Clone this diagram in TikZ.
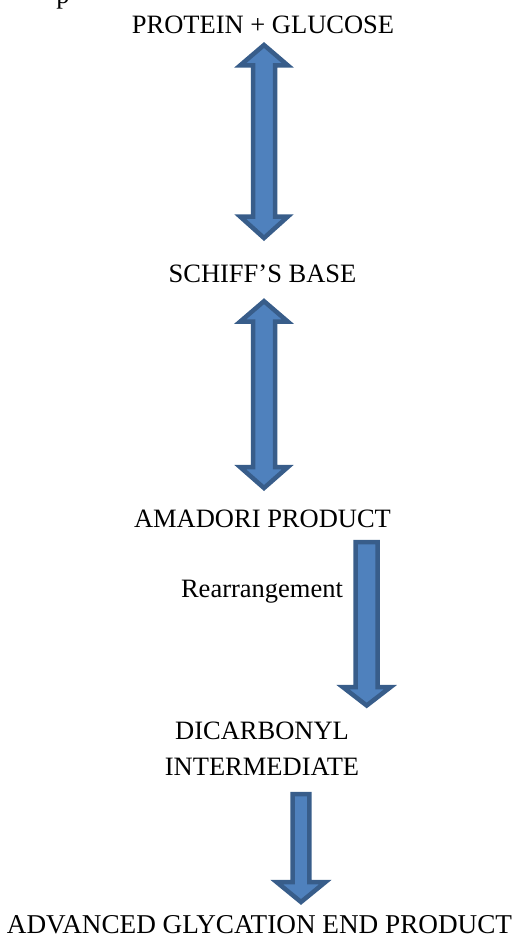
\documentclass[tikz,border=0pt]{standalone}
\usepackage{fontspec}
\setmainfont{Liberation Serif}
\tikzset{
  lbl/.style={inner sep=0pt, anchor=base, font=\fontsize{26.5}{36}\selectfont},
  blockarrow/.style={fill=arrowfill, draw=arrowline, line width=4.5pt, line join=miter}
}
\definecolor{arrowfill}{HTML}{4F81BD}
\definecolor{arrowline}{HTML}{385D8A}
% double arrow: cx, top tip, top head base, bottom head base, bottom tip, half head, half shaft
\newcommand\myDblArrow[7]{%
  \draw[blockarrow] (#1,#2) -- (#1+#6,#3) -- (#1+#7,#3) -- (#1+#7,#4) -- (#1+#6,#4)
    -- (#1,#5) -- (#1-#6,#4) -- (#1-#7,#4) -- (#1-#7,#3) -- (#1-#6,#3) -- cycle;}
% down arrow: cx, shaft top, head base, tip, half head, half shaft
\newcommand\myDownArrow[6]{%
  \draw[blockarrow] (#1-#6,#2) -- (#1+#6,#2) -- (#1+#6,#3) -- (#1+#5,#3) -- (#1,#4)
    -- (#1-#5,#3) -- (#1-#6,#3) -- cycle;}
\begin{document}
\begin{tikzpicture}[x=1pt,y=-1pt]
\useasboundingbox (0,0) rectangle (515,951);
\begin{scope}
\clip (0,0) rectangle (515,951);
\node[lbl] (frag) at (63,3.5) {p};
\end{scope}
\node[lbl] (pg) at (263,33) {PROTEIN + GLUCOSE};
\node[lbl] (sb) at (262.5,282) {SCHIFF’S BASE};
\node[lbl] (ap) at (262.5,527) {AMADORI PRODUCT};
\node[lbl] (re) at (262,597) {Rearrangement};
\node[lbl] (di1) at (262,739) {DICARBONYL};
\node[lbl] (di2) at (262,775) {INTERMEDIATE};
\node[lbl, font=\fontsize{27.2}{36}\selectfont] (age) at (259.5,933) {ADVANCED GLYCATION END PRODUCT};
\myDblArrow{264}{45}{65.3}{216.7}{238}{23.7}{11}
\myDblArrow{264}{301.2}{321.5}{467.2}{488}{23.7}{11}
\myDownArrow{366.7}{542.2}{687.2}{705.5}{23.7}{11}
\myDownArrow{301}{794}{882.2}{902}{24.2}{8.3}
\end{tikzpicture}
\end{document}
